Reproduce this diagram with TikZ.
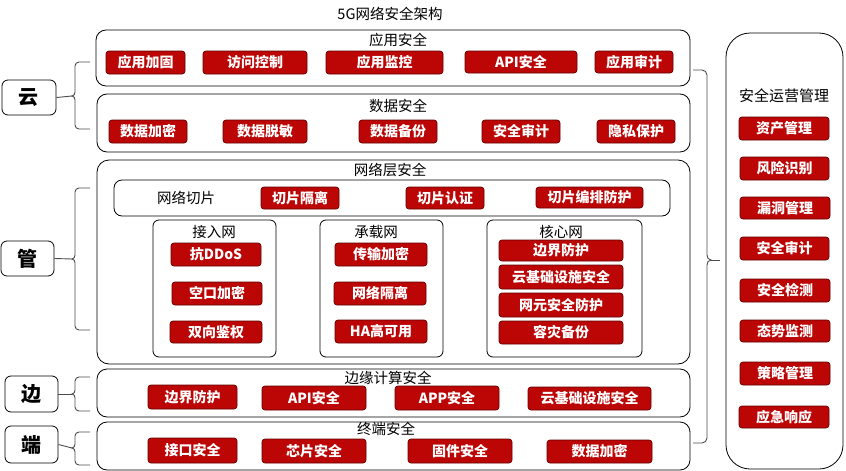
\documentclass[tikz,border=0pt]{standalone}
\usepackage{fontspec}
\setmainfont{Noto Sans CJK SC}
\definecolor{rfill}{RGB}{188,6,6}
\definecolor{rdraw}{RGB}{100,0,0}
\tikzset{
  rb/.style={draw=rdraw, fill=rfill, line width=0.7pt, rounded corners=3pt, text=white,
    font=\bfseries\fontsize{14}{14}\selectfont, inner sep=0pt},
  cont/.style={draw=black, line width=0.8pt, inner sep=0pt},
  ttl/.style={font=\fontsize{14.5}{15}\selectfont, inner sep=0pt},
  lab/.style={draw=black, line width=0.8pt, rounded corners=6pt, inner sep=0pt,
    font=\bfseries\fontsize{20}{20}\selectfont},
  br/.style={line width=0.9pt, draw=black!70},
}
% name, x1, y1, x2, y2, text
\newcommand\rbox[6]{\node[rb, minimum width={(#4-#2)*1pt}, minimum height={(#5-#3)*1pt}] (#1) at ({(#2+#4)/2},{(#3+#5)/2}) {#6};}
% name, x1, y1, x2, y2, radius
\newcommand\cbox[6]{\node[cont, rounded corners=#6pt, minimum width={(#4-#2)*1pt}, minimum height={(#5-#3)*1pt}] (#1) at ({(#2+#4)/2},{(#3+#5)/2}) {};}
\newcommand\lbox[6]{\node[lab, minimum width={(#4-#2)*1pt}, minimum height={(#5-#3)*1pt}] (#1) at ({(#2+#4)/2},{(#3+#5)/2}) {#6};}
% left brace: name, x vertical, ytop, ybot, ymid
\newcommand\lbrc[5]{%
  \draw[br] ({#2+15},#3) -- ({#2+4},#3) to[out=180,in=90] (#2,{#3+4}) -- (#2,{#5-4})
    to[out=-90,in=0] ({#2-3},#5) to[out=0,in=90] (#2,{#5+4}) -- (#2,{#4-4})
    to[out=-90,in=180] ({#2+4},#4) -- ({#2+15},#4);
  \coordinate (#1) at ({#2-3},#5);}
\begin{document}
\begin{tikzpicture}[x=1pt,y=-1pt]
\useasboundingbox (0,0) rectangle (846,471);

\node[ttl] (title) at (390,14) {5G网络安全架构};

% ---------- application security
\cbox{app}{96}{30}{690}{86}{10}
\node[ttl] (appt) at (398,40) {应用安全};
\rbox{a1}{106}{51}{185}{74}{应用加固}
\rbox{a2}{203}{51}{307}{74}{访问控制}
\rbox{a3}{326}{51}{443}{74}{应用监控}
\rbox{a4}{465}{51}{577}{73}{API安全}
\rbox{a5}{595}{51}{673}{73}{应用审计}

% ---------- data security
\cbox{dat}{97}{94}{690}{152}{10}
\node[ttl] (datt) at (398,106) {数据安全};
\rbox{d1}{109}{120}{187}{143}{数据加密}
\rbox{d2}{223}{120}{307}{143}{数据脱敏}
\rbox{d3}{359}{120}{437}{143}{数据备份}
\rbox{d4}{482}{120}{560}{143}{安全审计}
\rbox{d5}{597}{120}{675}{143}{隐私保护}

% ---------- network layer security
\cbox{net}{97}{160}{690}{364}{12}
\node[ttl] (nett) at (390,170) {网络层安全};
\cbox{slc}{114}{180}{670}{216}{8}
\node[ttl] (slct) at (186,198) {网络切片};
\rbox{s1}{261}{187}{339}{209}{切片隔离}
\rbox{s2}{406}{187}{484}{209}{切片认证}
\rbox{s3}{536}{187}{643}{208}{切片编排防护}

\cbox{acc}{153}{220}{276}{357}{6}
\node[ttl] (acct) at (214,232) {接入网};
\rbox{n1}{171}{243}{261}{266}{抗DDoS}
\rbox{n2}{172}{282}{262}{305}{空口加密}
\rbox{n3}{170}{321}{262}{343}{双向鉴权}

\cbox{bea}{320}{220}{443}{357}{6}
\node[ttl] (beat) at (376,232) {承载网};
\rbox{b1}{335}{243}{427}{266}{传输加密}
\rbox{b2}{334}{282}{426}{305}{网络隔离}
\rbox{b3}{335}{320}{427}{343}{HA高可用}

\cbox{cor}{487}{220}{642}{357}{6}
\node[ttl] (cort) at (561,232) {核心网};
\rbox{c1}{499}{240}{623}{261}{边界防护}
\rbox{c2}{499}{265}{623}{289}{云基础设施安全}
\rbox{c3}{499}{293}{623}{317}{网元安全防护}
\rbox{c4}{499}{321}{623}{344}{容灾备份}

% ---------- edge computing security
\cbox{edg}{97}{369}{690}{417}{10}
\node[ttl] (edgt) at (388,378) {边缘计算安全};
\rbox{e1}{148}{385}{237}{409}{边界防护}
\rbox{e2}{262}{386}{366}{410}{API安全}
\rbox{e3}{395}{386}{499}{410}{APP安全}
\rbox{e4}{528}{387}{651}{410}{云基础设施安全}

% ---------- terminal security
\cbox{ter}{97}{422}{690}{470}{10}
\node[ttl] (tert) at (386,429) {终端安全};
\rbox{t1}{148}{438}{237}{463}{接口安全}
\rbox{t2}{262}{439}{366}{463}{芯片安全}
\rbox{t3}{408}{439}{512}{463}{固件安全}
\rbox{t4}{547}{440}{652}{463}{数据加密}

% ---------- left labels and braces
\lbox{Lc}{2}{80}{56}{115}{云}
\lbox{Lg}{1}{241}{54}{276}{管}
\lbox{Lb}{5}{376}{58}{412}{边}
\lbox{Ld}{5}{426}{58}{463}{端}

\lbrc{Bc}{75}{62}{129}{96}
\lbrc{Bg}{75}{188}{330}{259}
\lbrc{Bb}{75}{377}{411}{394}
\lbrc{Bd}{75}{432}{465}{448}
\draw[br] (Lc.east) -- (Bc);
\draw[br] (Lg.east) -- (Bg);
\draw[br] (Lb.east) -- (Bb);
\draw[br] (Ld.east) -- (Bd);

% ---------- right brace
\draw[br] (693,70) -- (702,70) to[out=0,in=90] (707,75) -- (707,255)
  to[out=-90,in=180] (711,260) to[out=180,in=90] (707,265) -- (707,438)
  to[out=-90,in=0] (702,443) -- (693,443);
\coordinate (Rtip) at (711,260);
\coordinate (Rend) at (720,260);
\draw[br] (Rtip) -- (Rend);

% ---------- security operations panel
\cbox{ops}{726}{33}{843}{469}{24}
\node[ttl, font=\fontsize{15}{15}\selectfont] (opst) at (784,96) {安全运营管理};
\rbox{o1}{739}{117}{829}{140}{资产管理}
\rbox{o2}{740}{157}{829}{180}{风险识别}
\rbox{o3}{740}{197}{830}{219}{漏洞管理}
\rbox{o4}{740}{237}{829}{260}{安全审计}
\rbox{o5}{740}{279}{830}{302}{安全检测}
\rbox{o6}{740}{320}{830}{342}{态势监测}
\rbox{o7}{740}{362}{830}{385}{策略管理}
\rbox{o8}{739}{406}{829}{428}{应急响应}
\end{tikzpicture}
\end{document}
